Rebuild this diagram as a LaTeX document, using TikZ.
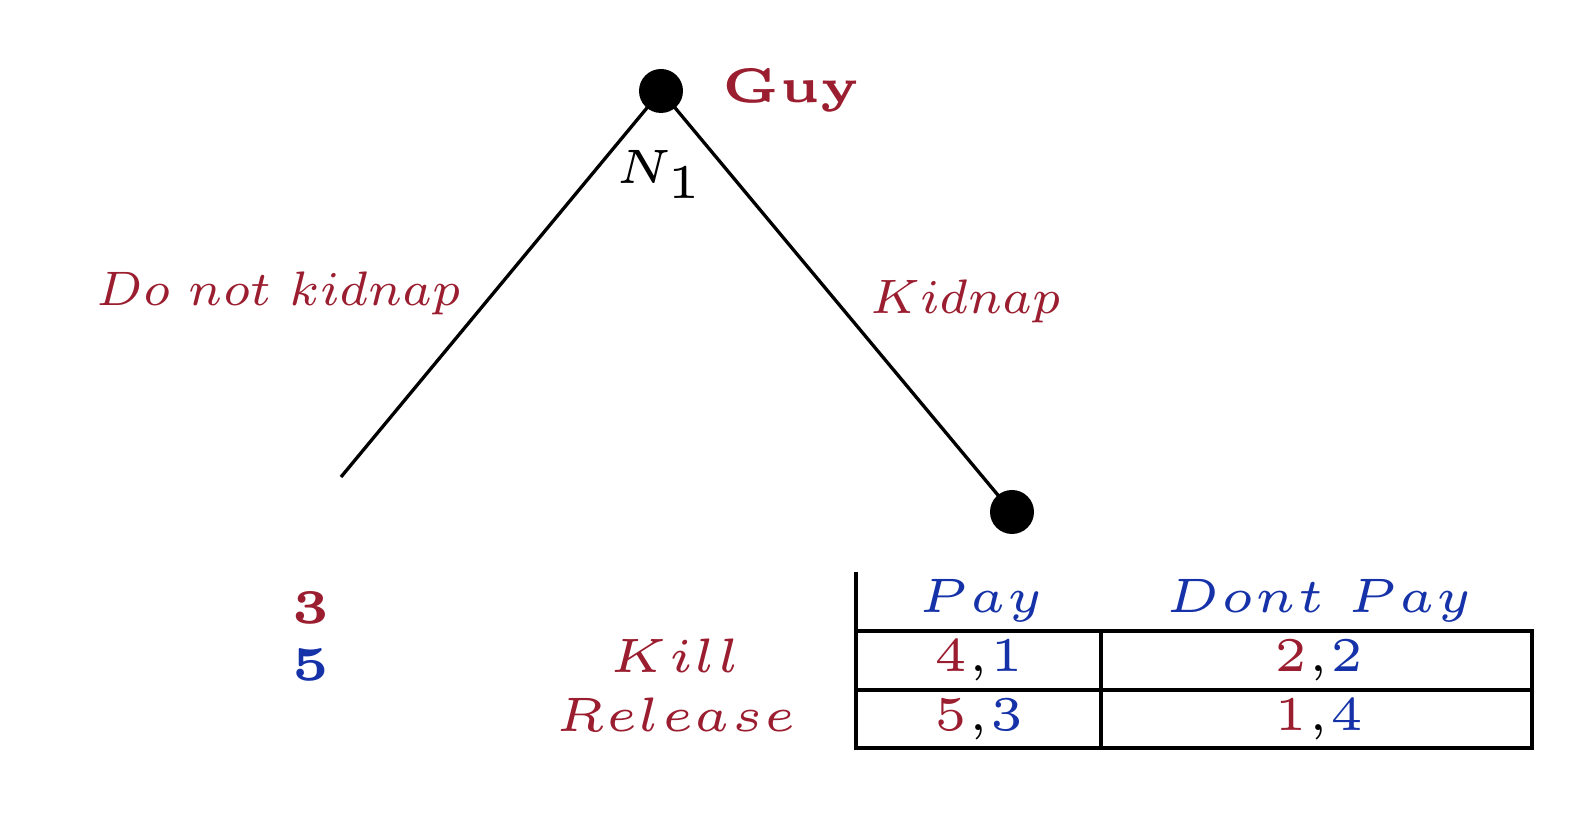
\documentclass[tikz,border=0pt]{standalone}
\definecolor{pred}{RGB}{155,30,48}
\definecolor{pblue}{RGB}{22,50,168}
\tikzset{
  dot/.style={circle,fill=black,inner sep=0pt,minimum size={44*0.0069cm}},
  edge/.style={line width=0.65pt},
  tbl/.style={line width=0.75pt},
  lbl/.style={inner sep=0pt,anchor=base,scale=1.9,font=\tiny},
  elbl/.style={inner sep=0pt,anchor=base,scale=1.357,font=\scriptsize},
}
\begin{document}
\begin{tikzpicture}[x=0.0069cm,y=-0.0069cm]
\useasboundingbox (0,0) rectangle (1572,838);
\node[dot] (root) at (661,91) {};
\node[dot] (kid) at (1012,512) {};
\coordinate (leaf) at (341,477);
\draw[edge] (root.center) -- (leaf);
\draw[edge] (root.center) -- (kid.center);
\node[lbl,anchor=base west,text=pred] (guy) at (721,103) {\textbf{Guy}};
\node[lbl] (n1) at (660,184) {$N_1$};
\node[elbl,text=pred] (dnk) at (279,306) {$Do\ not\ kidnap$};
\node[elbl,text=pred] (kn) at (966,314) {$Kidnap$};
\node[lbl,text=pred] (p1) at (311,624) {$\mathbf{3}$};
\node[lbl,text=pblue] (p2) at (311,681) {$\mathbf{5}$};
\node[lbl,text=pred] (kill) at (675,673) {$Kill$};
\node[lbl,text=pred] (rel) at (676,732) {$Release$};
% table
\coordinate (tl) at (856,572);
\coordinate (a1) at (856,631);
\coordinate (a2) at (1532,631);
\coordinate (b1) at (856,690);
\coordinate (b2) at (1532,690);
\coordinate (c1) at (856,748);
\coordinate (c2) at (1532,748);
\coordinate (m1) at (1101,631);
\coordinate (m2) at (1101,748);
\draw[tbl] (tl) -- (c1) -- (c2) -- (a2) -- (a1);
\draw[tbl] (b1) -- (b2);
\draw[tbl] (m1) -- (m2);
\node[lbl,text=pblue] (pay) at (981,613) {$Pay$};
\node[lbl,text=pblue] (dpay) at (1319,613) {$Dont\ Pay$};
\node[lbl] (c11) at (979,672) {$\textcolor{pred}{4}{,}\textcolor{pblue}{1}$};
\node[lbl] (c12) at (1319,672) {$\textcolor{pred}{2}{,}\textcolor{pblue}{2}$};
\node[lbl] (c21) at (979,731) {$\textcolor{pred}{5}{,}\textcolor{pblue}{3}$};
\node[lbl] (c22) at (1319,731) {$\textcolor{pred}{1}{,}\textcolor{pblue}{4}$};
\end{tikzpicture}
\end{document}
